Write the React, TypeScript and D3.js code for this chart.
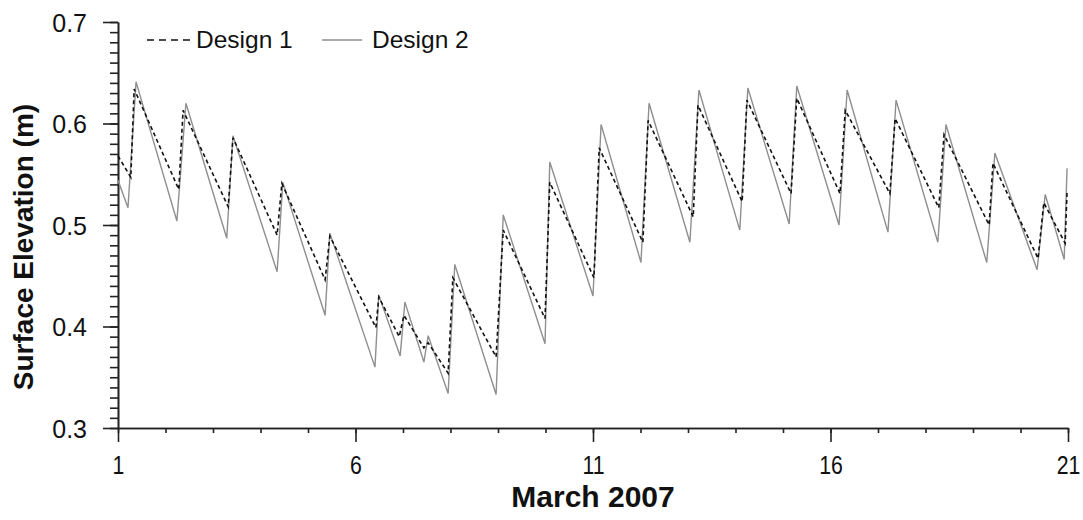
import React, { useEffect, useRef } from 'react';
import * as d3 from 'd3';

// Design 1 (dashed) - day of March 2007, surface elevation (m)
const design1Days = [1.00, 1.27, 1.34, 2.28, 2.37, 3.32, 3.42, 4.35, 4.45, 5.36, 5.46, 6.43, 6.49, 6.92, 7.02, 7.44, 7.53, 7.95, 8.05, 8.96, 9.11, 9.99, 10.09, 11.02, 11.13, 12.05, 12.16, 13.11, 13.21, 14.14, 14.24, 15.17, 15.29, 16.20, 16.31, 17.25, 17.36, 18.28, 18.39, 19.34, 19.42, 20.37, 20.49, 20.94, 20.98];
const design1Levels = [0.568, 0.547, 0.634, 0.535, 0.613, 0.518, 0.586, 0.490, 0.541, 0.446, 0.489, 0.399, 0.429, 0.390, 0.411, 0.379, 0.384, 0.354, 0.448, 0.370, 0.495, 0.408, 0.542, 0.448, 0.576, 0.483, 0.603, 0.508, 0.618, 0.523, 0.623, 0.531, 0.625, 0.531, 0.613, 0.531, 0.605, 0.517, 0.589, 0.500, 0.561, 0.467, 0.522, 0.482, 0.533];

// Design 2 (solid grey)
const design2Days = [1.00, 1.21, 1.38, 2.24, 2.43, 3.29, 3.42, 4.35, 4.47, 5.36, 5.46, 6.41, 6.49, 6.94, 7.04, 7.44, 7.53, 7.95, 8.09, 8.96, 9.11, 9.99, 10.09, 11.00, 11.17, 12.01, 12.18, 13.04, 13.23, 14.09, 14.26, 15.13, 15.29, 16.18, 16.35, 17.21, 17.38, 18.26, 18.43, 19.29, 19.46, 20.35, 20.52, 20.92, 20.98];
const design2Levels = [0.544, 0.517, 0.641, 0.504, 0.620, 0.487, 0.588, 0.454, 0.542, 0.411, 0.492, 0.360, 0.431, 0.371, 0.424, 0.365, 0.391, 0.334, 0.461, 0.333, 0.510, 0.383, 0.562, 0.430, 0.599, 0.463, 0.620, 0.483, 0.633, 0.495, 0.635, 0.501, 0.637, 0.500, 0.633, 0.493, 0.623, 0.483, 0.599, 0.463, 0.571, 0.456, 0.530, 0.466, 0.556];

const xTickLabels = [1, 6, 11, 16, 21];
const yTickLabels = [0.3, 0.4, 0.5, 0.6, 0.7];
const seriesNames = ['Design 1', 'Design 2'];

function App() {
  const graphRef = useRef<SVGSVGElement>(null);

  function drawChart() {
    const svg = d3.select(graphRef.current);
    svg.selectAll('*').remove();

    const x = d3.scaleLinear().domain([1, 21]).range([118, 1068]);
    const y = d3.scaleLinear().domain([0.3, 0.7]).range([428, 22]);

    // minor ticks first, then the major ones on top
    const minorDays = d3.range(1, 22);
    svg.append('g')
      .attr('transform', 'translate(0,428)')
      .call(d3.axisBottom(x).tickValues(minorDays).tickSize(5).tickSizeOuter(0).tickFormat(() => ''))
      .call(g => g.selectAll('path,line').attr('stroke', '#222').attr('stroke-width', 1.6));
    const xMajor = svg.append('g')
      .attr('transform', 'translate(0,428)')
      .call(d3.axisBottom(x).tickValues(xTickLabels).tickSize(14).tickSizeOuter(0).tickFormat(d3.format('d')));
    xMajor.selectAll('path,line').attr('stroke', '#222').attr('stroke-width', 1.6);
    xMajor.selectAll('text')
      .attr('y', 0)
      .attr('dy', 0)
      .attr('transform', 'translate(0,46) scale(0.85,1)')
      .attr('font-family', 'Liberation Sans, Arial, sans-serif')
      .attr('font-size', 25)
      .attr('fill', '#111');

    const minorLevels = d3.range(30, 71).map(v => v / 100);
    svg.append('g')
      .attr('transform', 'translate(118,0)')
      .call(d3.axisLeft(y).tickValues(minorLevels).tickSize(8).tickSizeOuter(0).tickFormat(() => ''))
      .call(g => g.selectAll('path,line').attr('stroke', '#222').attr('stroke-width', 1.6));
    const yMajor = svg.append('g')
      .attr('transform', 'translate(118,0)')
      .call(d3.axisLeft(y).tickValues(yTickLabels).tickSize(15).tickSizeOuter(0).tickFormat(d3.format('.1f')));
    yMajor.selectAll('path,line').attr('stroke', '#222').attr('stroke-width', 1.6);
    yMajor.selectAll('text')
      .attr('x', -31)
      .attr('dy', '0.36em')
      .attr('font-family', 'Liberation Sans, Arial, sans-serif')
      .attr('font-size', 25)
      .attr('fill', '#111');

    // axis titles
    svg.append('text')
      .attr('transform', 'translate(593,507)')
      .attr('text-anchor', 'middle')
      .attr('font-family', 'Liberation Sans, Arial, sans-serif')
      .attr('font-weight', 'bold')
      .attr('font-size', 30)
      .attr('fill', '#111')
      .text('March 2007');
    svg.append('text')
      .attr('transform', 'translate(33,247) rotate(-90)')
      .attr('text-anchor', 'middle')
      .attr('font-family', 'Liberation Sans, Arial, sans-serif')
      .attr('font-weight', 'bold')
      .attr('font-size', 28)
      .attr('fill', '#111')
      .text('Surface Elevation (m)');

    const line = d3.line<[number, number]>()
      .x(d => x(d[0]))
      .y(d => y(d[1]));

    const d2 = design2Days.map((d, i) => [d, design2Levels[i]] as [number, number]);
    const d1 = design1Days.map((d, i) => [d, design1Levels[i]] as [number, number]);

    svg.append('path')
      .attr('d', line(d2))
      .attr('fill', 'none')
      .attr('stroke', '#8f8f8f')
      .attr('stroke-width', 1.4);
    svg.append('path')
      .attr('d', line(d1))
      .attr('fill', 'none')
      .attr('stroke', '#111')
      .attr('stroke-width', 1.6)
      .attr('stroke-dasharray', '4,3');

    // legend
    const legend = svg.append('g').attr('font-family', 'Liberation Sans, Arial, sans-serif').attr('font-size', 24.5).attr('fill', '#111');
    legend.append('line')
      .attr('x1', 147).attr('x2', 193).attr('y1', 40).attr('y2', 40)
      .attr('stroke', '#111').attr('stroke-width', 1.6).attr('stroke-dasharray', '7,5');
    legend.append('text').attr('x', 196).attr('y', 48).text(seriesNames[0]);
    legend.append('line')
      .attr('x1', 322).attr('x2', 362).attr('y1', 40).attr('y2', 40)
      .attr('stroke', '#8f8f8f').attr('stroke-width', 1.4);
    legend.append('text').attr('x', 372).attr('y', 48).text(seriesNames[1]);
  }

  useEffect(() => {
    drawChart();
  }, []);

  return (
    <svg ref={graphRef} width={1083} height={520} style={{ position: 'absolute', left: 0, top: 0, background: '#fff' }}></svg>
  );
}

export default App;
